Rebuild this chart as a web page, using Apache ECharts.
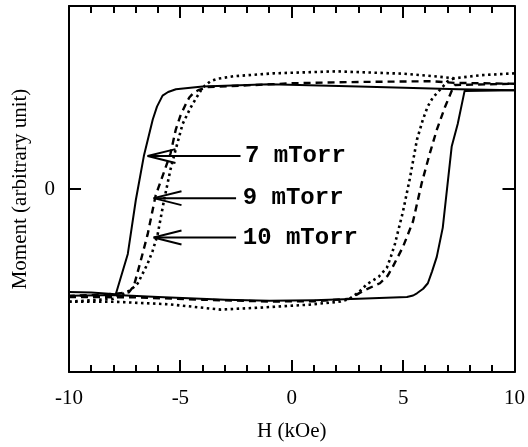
<!DOCTYPE html>
<html>
<head>
<meta charset="utf-8">
<script src="https://cdn.jsdelivr.net/npm/echarts@6/dist/echarts.min.js"></script>
<style>html,body{margin:0;padding:0;background:#fff}#c{width:528px;height:447px}</style>
</head>
<body>
<div id="c"></div>
<script>
// Axis ticks
const xTicks = [-10, -5, 0, 5, 10];
const xMinorTicks = [-9, -8, -7, -6, -4, -3, -2, -1, 1, 2, 3, 4, 6, 7, 8, 9];
const yTicks = [0];

// 7 mTorr (solid) loop: descending branch then ascending branch, [H (kOe), moment]
const loop7Down = [[10,0.54],[7.5,0.545],[3,0.56],[-1,0.572],[-4,0.56],[-5.2,0.545],[-5.55,0.53],[-5.8,0.51],[-6.05,0.45],[-6.24,0.38],[-6.64,0.18],[-7.0,-0.06],[-7.36,-0.355],[-7.9,-0.575],[-9,-0.565],[-10,-0.563]];
const loop7Up = [[-10,-0.584],[-7.9,-0.579],[-6,-0.59],[-3,-0.605],[-1,-0.611],[1,-0.608],[3,-0.6],[5.17,-0.59],[5.45,-0.582],[5.62,-0.57],[5.9,-0.545],[6.11,-0.515],[6.3,-0.45],[6.51,-0.371],[6.78,-0.211],[7.18,0.232],[7.45,0.355],[7.76,0.536],[10,0.54]];

// 9 mTorr (dashed) loop
const loop9Down = [[10,0.575],[7.3,0.58],[6.3,0.589],[3,0.585],[0,0.578],[-0.83,0.573],[-3.78,0.557],[-4.2,0.54],[-4.41,0.525],[-4.6,0.5],[-4.77,0.461],[-5.0,0.4],[-5.21,0.323],[-5.44,0.195],[-5.8,0.07],[-6.11,-0.035],[-6.47,-0.248],[-6.78,-0.392],[-7.09,-0.531],[-7.32,-0.565],[-8.5,-0.578],[-10,-0.584]];
const loop9Up = [[-10,-0.59],[-7,-0.592],[-4,-0.605],[-1,-0.615],[1,-0.613],[2.6,-0.6],[3.2,-0.557],[3.96,-0.515],[4.3,-0.475],[4.54,-0.424],[4.99,-0.317],[5.44,-0.179],[5.84,0.035],[6.2,0.195],[6.51,0.323],[6.87,0.445],[7.18,0.536],[7.32,0.568],[10,0.575]];

// 10 mTorr (dotted) loop
const loop10Down = [[10,0.632],[8.5,0.622],[7.3,0.605],[6.5,0.615],[5,0.63],[2,0.643],[-0.83,0.632],[-2.62,0.616],[-3.3,0.603],[-3.65,0.589],[-3.9,0.565],[-4.09,0.536],[-4.3,0.495],[-4.54,0.445],[-4.9,0.355],[-5.21,0.216],[-5.44,0.109],[-5.75,-0.072],[-6.02,-0.248],[-6.25,-0.34],[-6.47,-0.408],[-6.91,-0.515],[-7.23,-0.552],[-8,-0.6],[-10,-0.616]];
const loop10Up = [[-10,-0.616],[-8,-0.616],[-5.5,-0.63],[-3.2,-0.659],[-1.4,-0.648],[0.8,-0.632],[2.2,-0.615],[2.6,-0.6],[3.0,-0.565],[3.38,-0.52],[3.9,-0.48],[4.27,-0.43],[4.45,-0.37],[4.63,-0.301],[4.99,-0.125],[5.3,0.056],[5.62,0.269],[5.88,0.376],[6.1,0.45],[6.33,0.499],[6.73,0.552],[7.0,0.589],[7.3,0.605]];

// Annotations: label, label-left H, arrow tail H, arrow tip H, moment level
const labels = ['7 mTorr', '9 mTorr', '10 mTorr'];
const labelH = [-2.1, -2.2, -2.2];
const tailH = [-2.3, -2.5, -2.5];
const tipH = [-6.47, -6.2, -6.2];
const levelM = [0.18, -0.05, -0.265];

const chart = echarts.init(document.getElementById('c'), null, {renderer: 'canvas'});
const serif = 'Liberation Serif';
const black = '#000';
const X_MIN = -10, X_MAX = 10, Y_MIN = -1, Y_MAX = 1;

function lineSeries(data, type, width) {
  return {type: 'line', data: data, xAxisIndex: 0, yAxisIndex: 0, showSymbol: false, symbol: 'none', smooth: false, animation: false,
    lineStyle: {color: black, width: width, type: type, join: 'round', cap: 'butt'}, z: 3};
}

const series = [
  lineSeries(loop7Down, 'solid', 2),
  lineSeries(loop7Up, 'solid', 2),
  lineSeries(loop9Down, [7, 5], 2.4),
  lineSeries(loop9Up, [7, 5], 2.4),
  lineSeries(loop10Down, [2.5, 3.5], 2.6),
  lineSeries(loop10Up, [2.5, 3.5], 2.6)
];

// arrows
const headLenH = 1.25, headHalfM = 0.038;
for (let i = 0; i < labels.length; i++) {
  series.push({type: 'line', data: [[tailH[i], levelM[i]], [tipH[i], levelM[i]]], xAxisIndex: 0, yAxisIndex: 0, showSymbol: false, symbol: 'none', animation: false,
    lineStyle: {color: black, width: 2}, z: 4});
  series.push({type: 'line', data: [[tipH[i] + headLenH, levelM[i] + headHalfM], [tipH[i], levelM[i]], [tipH[i] + headLenH, levelM[i] - headHalfM]], xAxisIndex: 0, yAxisIndex: 0, showSymbol: false, symbol: 'none', animation: false,
    lineStyle: {color: black, width: 2}, z: 4});
}

// inward ticks on all four sides, placed through the axis scales (data stays inside the axis ranges)
const tickStyle = {stroke: black, lineWidth: 2, fill: null};
const xTickData = xTicks.map(v => [v, 0, 12]).concat(xMinorTicks.map(v => [v, 0, 7]));
series.push({
  type: 'custom', xAxisIndex: 0, yAxisIndex: 0, clip: false, silent: true, animation: false, z: 20,
  data: xTickData, encode: {x: 0, y: 1},
  renderItem: function (params, api) {
    const v = api.value(0), len = api.value(2);
    const pb = api.coord([v, Y_MIN]), pt = api.coord([v, Y_MAX]);
    const x = Math.round(pb[0]);
    return {type: 'group', children: [
      {type: 'rect', shape: {x: x - 1, y: pb[1] - len, width: 2, height: len}, style: {fill: black}},
      {type: 'rect', shape: {x: x - 1, y: pt[1], width: 2, height: len}, style: {fill: black}}
    ]};
  }
});
series.push({
  type: 'custom', xAxisIndex: 0, yAxisIndex: 0, clip: false, silent: true, animation: false, z: 20,
  data: yTicks.map(v => [0, v, 12]), encode: {x: 0, y: 1},
  renderItem: function (params, api) {
    const v = api.value(1), len = api.value(2);
    const pl = api.coord([X_MIN, v]), pr = api.coord([X_MAX, v]);
    const y = Math.round(pl[1]);
    return {type: 'group', children: [
      {type: 'rect', shape: {x: pl[0], y: y - 1, width: len, height: 2}, style: {fill: black}},
      {type: 'rect', shape: {x: pr[0] - len, y: y - 1, width: len, height: 2}, style: {fill: black}}
    ]};
  }
});

const frameLine = {show: true, onZero: false, lineStyle: {color: black, width: 2}};

chart.setOption({
  animation: false,
  backgroundColor: '#fff',
  grid: {left: 69, right: 11, top: 6, bottom: 66, containLabel: false},
  xAxis: [
    {type: 'value', min: X_MIN, max: X_MAX, interval: 5, position: 'bottom',
      axisLine: frameLine, axisTick: {show: false}, splitLine: {show: false},
      axisLabel: {show: true, margin: 16, fontFamily: serif, fontSize: 21, color: black,
        formatter: v => xTicks.indexOf(v) >= 0 ? String(v) : ''},
      name: 'H (kOe)', nameLocation: 'middle', nameGap: 49,
      nameTextStyle: {fontFamily: serif, fontSize: 21, color: black}},
    {type: 'value', min: X_MIN, max: X_MAX, interval: 5, position: 'top',
      axisLine: frameLine, axisTick: {show: false}, splitLine: {show: false}, axisLabel: {show: false}}
  ],
  yAxis: [
    {type: 'value', min: Y_MIN, max: Y_MAX, interval: 1, position: 'left',
      axisLine: frameLine, axisTick: {show: false}, splitLine: {show: false},
      name: 'Moment (arbitrary unit)', nameLocation: 'middle', nameGap: 38, nameRotate: 90,
      nameTextStyle: {fontFamily: serif, fontSize: 21, color: black},
      axisLabel: {show: true, margin: 14, fontFamily: serif, fontSize: 21, color: black,
        formatter: v => yTicks.indexOf(v) >= 0 ? String(v) : ''}},
    {type: 'value', min: Y_MIN, max: Y_MAX, interval: 1, position: 'right',
      axisLine: frameLine, axisTick: {show: false}, splitLine: {show: false}, axisLabel: {show: false}}
  ],
  series: series
});

const graphics = labels.map((t, i) => {
  const p = chart.convertToPixel({xAxisIndex: 0, yAxisIndex: 0}, [labelH[i], levelM[i]]);
  return {type: 'text', x: p[0], y: p[1], z: 10,
    style: {text: t, fill: black, font: 'bold 24px "Liberation Mono"', textAlign: 'left', textVerticalAlign: 'middle'}};
});
chart.setOption({graphic: graphics});
</script>
</body>
</html>
